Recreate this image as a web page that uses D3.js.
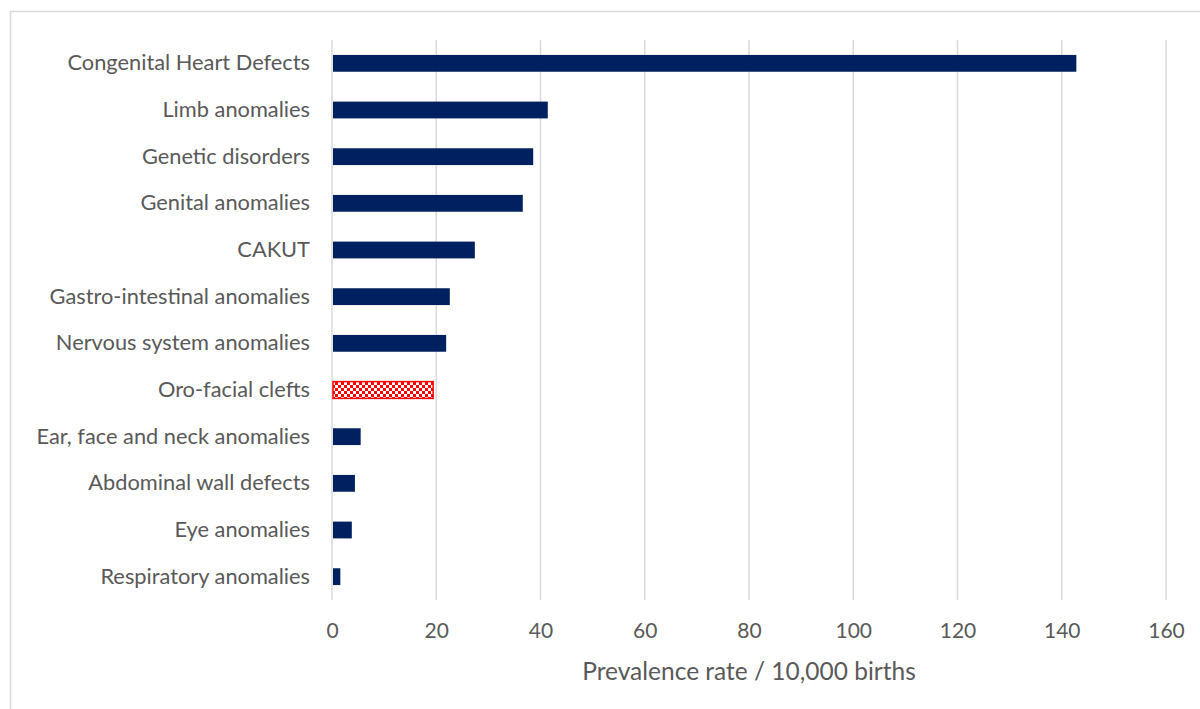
<!DOCTYPE html>
<html>
<head>
<meta charset="utf-8">
<script src="https://cdn.jsdelivr.net/npm/d3@7"></script>
<style>
  body { margin: 0; background: #fff; }
  text { font-family: Lato, "Open Sans", sans-serif; }
</style>
</head>
<body>
<div id="chart"></div>
<script>
const categories = [
  "Congenital Heart Defects", "Limb anomalies", "Genetic disorders", "Genital anomalies",
  "CAKUT", "Gastro-intestinal anomalies", "Nervous system anomalies", "Oro-facial clefts",
  "Ear, face and neck anomalies", "Abdominal wall defects", "Eye anomalies", "Respiratory anomalies"
];
const values = [142.8, 41.4, 38.6, 36.6, 27.4, 22.6, 21.9, 19.4, 5.5, 4.4, 3.8, 1.6];
const highlighted = ["Oro-facial clefts"];
const xTicks = [0, 20, 40, 60, 80, 100, 120, 140, 160];
const xTitle = "Prevalence rate / 10,000 births";

const W = 1200, H = 709;
const margin = { top: 40, right: 34, bottom: 109, left: 332 };
const width = W - margin.left - margin.right;
const height = H - margin.top - margin.bottom;

const svg = d3.select("#chart").append("svg")
    .attr("width", W).attr("height", H);

// outer frame
svg.append("rect")
    .attr("x", 10.5).attr("y", 11.5)
    .attr("width", 1400).attr("height", 1000)
    .attr("fill", "#fff").attr("stroke", "#d9d9d9").attr("stroke-width", 1.5);

const defs = svg.append("defs");
const pat = defs.append("pattern")
    .attr("id", "checker").attr("patternUnits", "userSpaceOnUse")
    .attr("width", 6).attr("height", 6);
pat.append("rect").attr("width", 6).attr("height", 6).attr("fill", "#ff0000");
pat.append("rect").attr("x", 0).attr("y", 0).attr("width", 3).attr("height", 3).attr("fill", "#ffffff");
pat.append("rect").attr("x", 3).attr("y", 3).attr("width", 3).attr("height", 3).attr("fill", "#ffffff");

const g = svg.append("g").attr("transform", `translate(${margin.left},${margin.top})`);

const x = d3.scaleLinear().domain([0, 160]).range([0, width]);
const y = d3.scaleBand().domain(categories).range([0, height]).paddingInner(0.64).paddingOuter(0.32);

// gridlines
g.selectAll(".grid").data(xTicks).enter().append("line")
    .attr("x1", d => x(d)).attr("x2", d => x(d))
    .attr("y1", 0).attr("y2", height)
    .attr("stroke", "#d9d9d9").attr("stroke-width", 1.5);

// bars
g.selectAll(".bar").data(categories).enter().append("rect")
    .attr("x", x(0) + 1)
    .attr("y", d => y(d))
    .attr("width", (d, i) => x(values[i]) - x(0) - 1)
    .attr("height", y.bandwidth())
    .attr("fill", d => highlighted.includes(d) ? "url(#checker)" : "#002060")
    .attr("stroke", d => highlighted.includes(d) ? "#ff0000" : "none")
    .attr("stroke-width", 1.5);

// y labels
const yAxis = d3.axisLeft(y).tickSize(0).tickPadding(22);
const ya = g.append("g").call(yAxis);
ya.select(".domain").remove();
ya.selectAll("text").attr("font-size", 21.8).attr("fill", "#595959")
    .style("font-family", "Lato, 'Open Sans', sans-serif");

// x axis
const xAxis = d3.axisBottom(x).tickValues(xTicks).tickSize(0).tickPadding(23);
const xa = g.append("g").attr("transform", `translate(0,${height})`).call(xAxis);
xa.select(".domain").remove();
xa.selectAll("text").attr("font-size", 21).attr("fill", "#595959")
    .style("font-family", "Lato, 'Open Sans', sans-serif");

svg.append("text")
    .attr("x", margin.left + width / 2).attr("y", 680)
    .attr("text-anchor", "middle")
    .attr("font-size", 24.5).attr("fill", "#595959")
    .text(xTitle);
</script>
</body>
</html>
